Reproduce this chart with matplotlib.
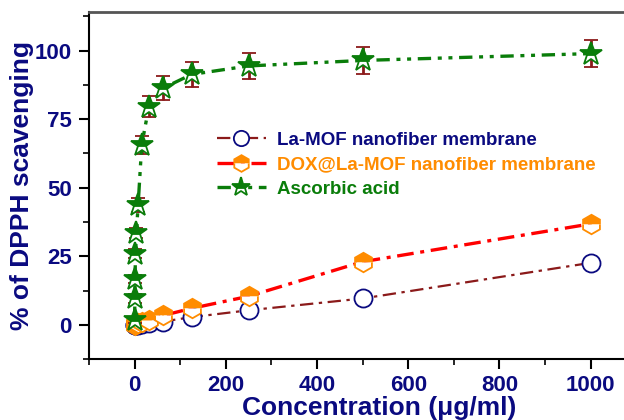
import matplotlib.pyplot as plt
from matplotlib.lines import Line2D
import numpy as np

plt.rcParams['font.family'] = ['Liberation Sans', 'DejaVu Sans']
plt.rcParams['font.weight'] = 'bold'

# concentrations (ug/ml)
conc_aa = [0.24, 0.49, 0.98, 1.95, 3.9, 7.8, 15.6, 31.25, 62.5, 125, 250, 500, 1000]
conc_mof = [0, 1.95, 3.9, 7.8, 15.6, 31.25, 62.5, 125, 250, 500, 1000]

# % DPPH scavenging
aa = [1.8, 9.6, 16.7, 26.0, 33.4, 43.8, 65.5, 79.5, 86.3, 91.3, 94.4, 96.4, 98.9]
aa_err = [1.0, 1.5, 1.5, 1.8, 1.8, 2.5, 3.2, 3.9, 4.3, 4.6, 4.7, 4.8, 4.9]

la_mof = [0.0, 0.0, 0.0, 0.0, 0.2, 0.6, 1.2, 2.8, 5.3, 9.6, 22.6]
la_mof_err = [0.8, 0.8, 0.8, 0.8, 0.8, 1.0, 1.2, 1.5, 1.5, 1.5, 1.6]

dox = [0.0, 0.3, 0.5, 0.8, 1.2, 1.8, 3.4, 6.0, 10.4, 23.0, 36.8]
dox_err = [0.8, 0.8, 0.8, 0.8, 0.8, 1.0, 1.2, 1.5, 1.5, 1.6, 1.6]

labels = ['La-MOF nanofiber membrane', 'DOX@La-MOF nanofiber membrane', 'Ascorbic acid']

navy = '#0a0a80'
maroon = '#8b1a1a'
orange = '#ff8c00'
green = '#0a7d0a'

sty_mof = dict(color=maroon, linestyle=(0, (6, 2.5, 1.5, 2.5)), linewidth=1.6,
               marker='o', markersize=13, markerfacecolor='white',
               markeredgecolor=navy, markeredgewidth=1.3)
sty_dox = dict(color='red', linestyle=(0, (5, 2, 1.2, 2)), linewidth=2.4,
               marker='h', markersize=14, fillstyle='top',
               markerfacecolor=orange, markerfacecoloralt='white',
               markeredgecolor=orange, markeredgewidth=1.3)
sty_aa = dict(color=green, linestyle=(0, (4, 2, 1.2, 2, 1.2, 2)), linewidth=2.4,
              marker='*', markersize=17, fillstyle='top',
              markerfacecolor=green, markerfacecoloralt='white',
              markeredgecolor=green, markeredgewidth=1.3)

fig = plt.figure(figsize=(6.24, 4.2), dpi=100)
ax = fig.add_axes([0.1426, 0.145, 0.877, 0.826])

ax.errorbar(conc_mof, la_mof, yerr=la_mof_err, ecolor=navy,
            capsize=4, capthick=1.5, elinewidth=1.5, zorder=3, **sty_mof)
ax.errorbar(conc_mof, dox, yerr=dox_err, ecolor=orange,
            capsize=4, capthick=1.5, elinewidth=1.5, zorder=4, **sty_dox)
ax.errorbar(conc_aa, aa, yerr=aa_err, ecolor=maroon,
            capsize=5, capthick=2, elinewidth=2, zorder=5, **sty_aa)

ax.set_xlim(-100, 1100)
ax.set_ylim(-10, 114)
ax.set_xticks([0, 200, 400, 600, 800, 1000])
ax.set_xticks(np.arange(-100, 1101, 100), minor=True)
ax.set_yticks([0, 25, 50, 75, 100])
ax.set_yticks(np.arange(-12.5, 114, 12.5), minor=True)

ax.tick_params(axis='both', which='major', direction='out', length=7, width=1.5,
               labelsize=16, labelcolor=navy, pad=5.5)
ax.tick_params(axis='x', which='major', pad=4.5)
ax.tick_params(axis='both', which='minor', direction='out', length=4, width=1.2)
ax.tick_params(top=False, right=False)
for lab in ax.get_xticklabels() + ax.get_yticklabels():
    lab.set_fontweight('bold')

ax.spines['left'].set_linewidth(1.5)
ax.spines['bottom'].set_linewidth(1.5)
ax.spines['top'].set_linewidth(2)
ax.spines['top'].set_color('#555555')

ax.set_xlabel('Concentration (μg/ml)', fontsize=19, fontweight='bold', color=navy)
ax.set_ylabel('% of DPPH scavenging', fontsize=19, fontweight='bold', color=navy)
ax.xaxis.set_label_coords(0.53, -0.105)
ax.yaxis.set_label_coords(-0.1, 0.5)

handles = [Line2D([], [], **dict(sty_mof, markersize=11)),
           Line2D([], [], **dict(sty_dox, markersize=12)),
           Line2D([], [], **dict(sty_aa, markersize=14))]
leg = ax.legend(handles, labels, loc='upper left', bbox_to_anchor=(0.234, 0.656),
                frameon=False, handlelength=2.6, handletextpad=0.6, labelspacing=0.4,
                borderpad=0, borderaxespad=0,
                prop={'weight': 'bold', 'size': 13.5})
for txt, c in zip(leg.get_texts(), [navy, orange, green]):
    txt.set_color(c)

fig.savefig('out.png', dpi=100)
